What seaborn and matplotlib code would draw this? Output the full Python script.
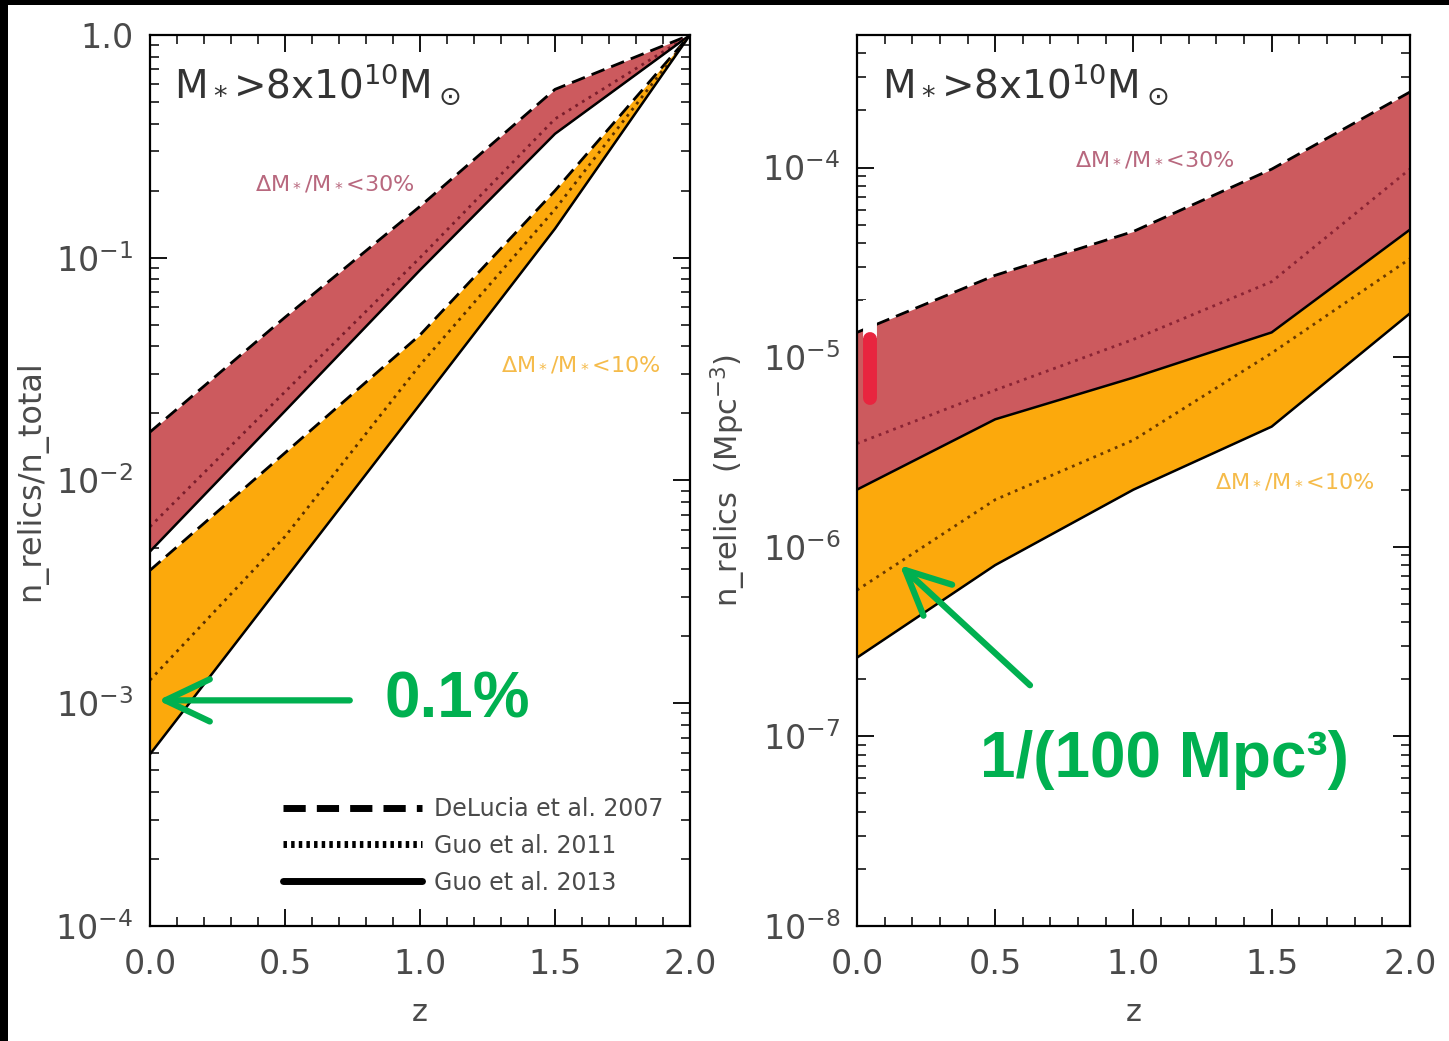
import numpy as np
import pandas as pd
import matplotlib.pyplot as plt
import seaborn as sns
from matplotlib.lines import Line2D
from matplotlib.ticker import MultipleLocator, LogLocator, FuncFormatter, NullFormatter

# redshift grid
z = [0.0, 0.5, 1.0, 1.5, 2.0]

# left panel: n_relics / n_total
frac_dl30 = [1.65e-2, 5.4e-2, 0.17, 0.57, 1.0]
frac_g11_30 = [6.2e-3, 2.5e-2, 0.10, 0.42, 1.0]
frac_g13_30 = [4.8e-3, 2.05e-2, 0.088, 0.36, 1.0]
frac_dl10 = [3.95e-3, 1.33e-2, 0.045, 0.20, 1.0]
frac_g11_10 = [1.27e-3, 5.6e-3, 0.033, 0.165, 1.0]
frac_g13_10 = [5.9e-4, 3.6e-3, 0.022, 0.135, 1.0]

# right panel: n_relics (Mpc^-3)
dens_dl30 = [1.35e-5, 2.7e-5, 4.6e-5, 9.8e-5, 2.5e-4]
dens_g11_30 = [3.5e-6, 6.7e-6, 1.24e-5, 2.5e-5, 9.8e-5]
dens_g13_30 = [2.0e-6, 4.7e-6, 7.8e-6, 1.35e-5, 4.7e-5]
dens_g11_10 = [5.9e-7, 1.77e-6, 3.65e-6, 1.05e-5, 3.3e-5]
dens_g13_10 = [2.6e-7, 8.0e-7, 2.0e-6, 4.3e-6, 1.7e-5]

# observed point (red bar) in the right panel
obs_z = 0.047
obs_lo, obs_hi = 6.1e-6, 1.24e-5

legend_labels = ["DeLucia et al. 2007", "Guo et al. 2011", "Guo et al. 2013"]

RED = "#cc5a5e"
ORANGE = "#fca90c"
GREEN = "#00b050"
GREY = "#4a4a4a"
DASH = (0, (5, 2.6))
DOT = (0, (1, 1.8))

sns.set_style("ticks")
plt.rcParams["font.family"] = ["DejaVu Sans"]
plt.rcParams["mathtext.default"] = "regular"

fig = plt.figure(figsize=(14.49, 10.41), dpi=100)
axL = fig.add_axes([0.1035, 0.1105, 0.3727, 0.8559])
axR = fig.add_axes([0.5914, 0.1105, 0.3816, 0.8559])

df = pd.DataFrame({
    "z": z,
    "frac_dl30": frac_dl30, "frac_g11_30": frac_g11_30, "frac_g13_30": frac_g13_30,
    "frac_dl10": frac_dl10, "frac_g11_10": frac_g11_10, "frac_g13_10": frac_g13_10,
    "dens_dl30": dens_dl30, "dens_g11_30": dens_g11_30, "dens_g13_30": dens_g13_30,
    "dens_g11_10": dens_g11_10, "dens_g13_10": dens_g13_10,
})


def draw(ax, col, ls, color="k", lw=2.0):
    sns.lineplot(data=df, x="z", y=col, ax=ax, color=color, linewidth=lw,
                 linestyle=ls, legend=False)


# left panel
axL.set_yscale("log")
axL.fill_between(df["z"], df["frac_g13_10"], df["frac_dl10"], color=ORANGE, lw=0)
axL.fill_between(df["z"], df["frac_g13_30"], df["frac_dl30"], color=RED, lw=0)
draw(axL, "frac_dl30", DASH)
draw(axL, "frac_g11_30", DOT, color="#7a1e2c")
draw(axL, "frac_g13_30", "-", lw=1.8)
draw(axL, "frac_dl10", DASH)
draw(axL, "frac_g11_10", DOT, color="#5a3000")
draw(axL, "frac_g13_10", "-", lw=1.8)
axL.set_ylim(1e-4, 1.0)

# right panel
axR.set_yscale("log")
axR.fill_between(df["z"], df["dens_g13_10"], df["dens_g13_30"], color=ORANGE, lw=0)
axR.fill_between(df["z"], df["dens_g13_30"], df["dens_dl30"], color=RED, lw=0)
draw(axR, "dens_dl30", DASH)
draw(axR, "dens_g11_30", DOT, color="#8a2434")
draw(axR, "dens_g13_30", "-", lw=1.8)
draw(axR, "dens_g11_10", DOT, color="#6a3a00")
draw(axR, "dens_g13_10", "-", lw=1.8)
axR.set_ylim(1e-8, 5e-4)
axR.vlines(obs_z, obs_hi * 1.02, obs_hi * 1.62, color="white", lw=10, zorder=5)
axR.vlines(obs_z, obs_lo, obs_hi, color="#e8253f", lw=10, zorder=6,
           capstyle="round")


def yfmt(v, pos):
    if v >= 0.99:
        return "1.0"
    return r"$10^{%d}$" % int(round(np.log10(v)))


for ax in (axL, axR):
    ax.set_xlim(0, 2)
    ax.xaxis.set_major_locator(MultipleLocator(0.5))
    ax.xaxis.set_minor_locator(MultipleLocator(0.1))
    ax.xaxis.set_major_formatter(FuncFormatter(lambda v, p: "%.1f" % v))
    ax.yaxis.set_major_locator(LogLocator(base=10, numticks=12))
    ax.yaxis.set_minor_locator(LogLocator(base=10, subs=np.arange(2, 10), numticks=12))
    ax.yaxis.set_major_formatter(FuncFormatter(yfmt))
    ax.yaxis.set_minor_formatter(NullFormatter())
    ax.tick_params(which="both", direction="in", top=True, right=True,
                   colors="k", labelcolor=GREY)
    ax.tick_params(which="major", length=12, width=1.3, labelsize=24)
    ax.tick_params(which="minor", length=6.5, width=1.1)
    ax.tick_params(axis="x", which="major", pad=16)
    ax.tick_params(axis="y", which="major", pad=12)
    for s in ax.spines.values():
        s.set_linewidth(1.6)
        s.set_color("k")
    ax.set_xlabel("z", fontsize=22, color=GREY)
    ax.xaxis.set_label_coords(0.5, -0.081)
    ax.text(0.045, 0.945, r"M$_*$>8x10$^{10}$M$_\odot$", transform=ax.transAxes,
            fontsize=28, color="#333333", va="center", ha="left")

axL.set_ylabel("n_relics/n_total", fontsize=23, color=GREY)
axL.yaxis.set_label_coords(-0.19, 0.5)
axR.set_ylabel(r"n_relics  (Mpc$^{-3}$)", fontsize=22, color=GREY)
axR.yaxis.set_label_coords(-0.197, 0.5)

# band labels
lbl30 = r"$\Delta$M$_*$/M$_*$<30%"
lbl10 = r"$\Delta$M$_*$/M$_*$<10%"
axL.text(0.39, 0.215, lbl30, fontsize=16, color="#b8687e", va="center")
axL.text(1.30, 0.033, lbl10, fontsize=16, color="#f5bb4a", va="center")
axR.text(0.79, 1.1e-4, lbl30, fontsize=16, color="#b8687e", va="center")
axR.text(1.295, 2.2e-6, lbl10, fontsize=16, color="#f5bb4a", va="center")

# legend
handles = [Line2D([], [], color="k", lw=5, linestyle=(0, (3.2, 1.6))),
           Line2D([], [], color="k", lw=5, linestyle=(0, (0.5, 0.6))),
           Line2D([], [], color="k", lw=5, linestyle="-")]
leg = axL.legend(handles, legend_labels, loc="upper left", bbox_to_anchor=(0.246, 0.145),
                 frameon=False, fontsize=17, handlelength=5.9, handletextpad=0.5,
                 labelspacing=0.55, borderpad=0, borderaxespad=0)
for t in leg.get_texts():
    t.set_color(GREY)

# green annotations
arrow = dict(arrowstyle="->,head_length=0.8,head_width=0.38", color=GREEN, lw=4.5,
             mutation_scale=40, shrinkA=0, shrinkB=0)
axL.annotate("", xy=(0.03, 1.03e-3), xytext=(0.74, 1.03e-3), arrowprops=arrow, zorder=10)
axL.text(0.87, 1.03e-3, "0.1%", fontsize=46, fontweight="bold", color=GREEN,
         family="Liberation Sans", va="center", ha="left")
axR.annotate("", xy=(0.155, 8.0e-7), xytext=(0.626, 1.86e-7), arrowprops=arrow, zorder=10)
axR.text(0.445, 7.5e-8, "1/(100 Mpc³)", fontsize=46, fontweight="bold", color=GREEN,
         family="Liberation Sans", va="center", ha="left")

# black frame remnants at top and left edge
fig.add_artist(plt.Rectangle((0, 1 - 5 / 1041), 1, 5 / 1041, transform=fig.transFigure,
                             color="k", lw=0))
fig.add_artist(plt.Rectangle((0, 0), 8 / 1449, 1, transform=fig.transFigure,
                             color="k", lw=0))

fig.savefig("out.png", dpi=100)
